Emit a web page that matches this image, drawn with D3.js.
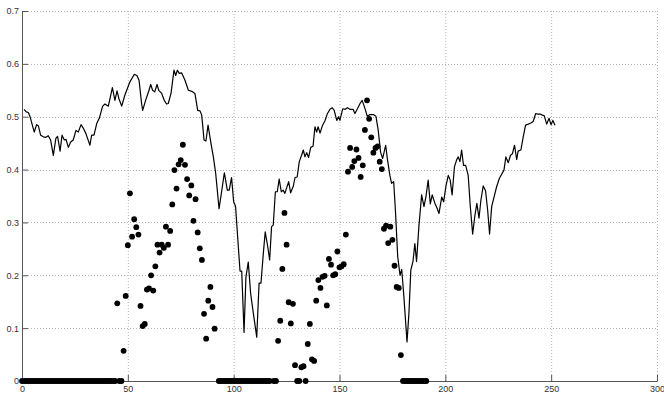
<!DOCTYPE html>
<html>
<head>
<meta charset="utf-8">
<script src="https://cdn.jsdelivr.net/npm/d3@7"></script>
<style>
body { margin: 0; background: #fff; }
svg { display: block; }
.axis text { font-family: "Liberation Sans", Arial, sans-serif; font-size: 9px; fill: #333; }
.axis path, .axis line { stroke: #555; }
.grid line { stroke: #b4b4b4; stroke-dasharray: 1,2; }
</style>
</head>
<body>
<svg id="chart" width="664" height="393"></svg>
<script>
// line series (x, value)
var lineX = [1,2,3,3.8,4.7,5.8,6.9,7.7,8.8,10.1,11.3,12.4,13.5,14.8,16,16.8,18,18.9,20,20.8,21.9,23,24.2,25.5,26.6,27.9,29,30.2,32.1,32.9,34,35.3,36.5,38.1,39.2,40.8,42.7,43.9,44.9,45.8,47.1,48.7,51,53,54.3,55.3,56.5,57,58.4,60,60.8,61.7,62.7,63.8,64.6,66,67.2,68.3,69.1,70.4,71.8,72.6,73.4,74.3,75.4,77,78.6,80.2,81.7,83,84.1,84.9,86,86.9,87.9,89.3,90.4,91.5,93.1,94.3,95.6,97,97.9,99,100,100.9,102.2,103,103.8,104.9,105.8,106.9,108,109.3,110.9,112,112.9,114,114.9,116.1,117,117.9,118.7,119.7,120.6,121.5,122.5,123.4,124.2,124.9,126,126.9,128.2,129,130,131,132.1,132.9,133.7,134.5,135.4,136.4,137.5,138.4,139.2,139.9,140.8,142,143.1,144.2,145.5,146.6,147.5,148.7,149.6,150.2,151.5,152.7,153.7,154.9,156.4,157.3,158.6,159.7,160.7,161.5,162.3,163.1,164.4,166,167.2,168.3,169.4,170.4,171.8,172.7,173.8,174.6,175.6,176.5,177.5,178.6,179.4,180.3,181.9,182.8,183.7,184.7,185.6,186.4,187.5,188.8,189.9,190.8,191.9,192.9,193.8,195.1,196.2,197,198.3,199.2,200.3,201.4,202.3,203.2,204.3,205.3,206.1,206.9,207.7,208.6,209.6,210.8,211.8,212.9,214,214.9,215.9,216.8,217.9,219,220,220.9,221.9,223,224.2,225.5,226.6,227.7,228.6,229.7,230.8,231.7,232.7,233.7,234.4,235.7,236.8,237.9,239.2,240.4,241.5,242.7,243.6,244.8,245.8,246.7,247.9,249,249.9,250.8,251.8];
var lineY = [0.514,0.509,0.508,0.500,0.487,0.471,0.485,0.483,0.465,0.462,0.461,0.464,0.456,0.427,0.459,0.463,0.435,0.465,0.456,0.457,0.442,0.452,0.456,0.474,0.471,0.485,0.478,0.468,0.446,0.465,0.465,0.487,0.497,0.520,0.524,0.520,0.555,0.531,0.549,0.534,0.520,0.542,0.566,0.580,0.578,0.569,0.525,0.512,0.531,0.550,0.561,0.550,0.547,0.561,0.550,0.544,0.531,0.524,0.525,0.544,0.588,0.578,0.588,0.582,0.583,0.569,0.550,0.548,0.544,0.512,0.511,0.503,0.456,0.454,0.484,0.449,0.424,0.393,0.326,0.358,0.394,0.361,0.361,0.385,0.339,0.330,0.254,0.208,0.208,0.092,0.197,0.225,0.166,0.128,0.083,0.185,0.185,0.241,0.282,0.254,0.229,0.292,0.295,0.358,0.358,0.382,0.358,0.361,0.355,0.364,0.377,0.356,0.369,0.385,0.386,0.415,0.427,0.437,0.424,0.432,0.423,0.442,0.444,0.481,0.471,0.481,0.469,0.484,0.492,0.505,0.514,0.517,0.512,0.493,0.500,0.493,0.515,0.514,0.517,0.514,0.514,0.506,0.516,0.525,0.531,0.522,0.512,0.501,0.504,0.504,0.501,0.474,0.433,0.421,0.446,0.418,0.389,0.374,0.377,0.317,0.235,0.200,0.211,0.166,0.074,0.128,0.210,0.226,0.260,0.226,0.292,0.352,0.330,0.348,0.380,0.335,0.352,0.336,0.326,0.317,0.348,0.339,0.369,0.389,0.380,0.352,0.405,0.418,0.424,0.415,0.437,0.408,0.408,0.389,0.330,0.278,0.314,0.336,0.308,0.342,0.369,0.360,0.323,0.278,0.330,0.348,0.367,0.383,0.391,0.399,0.424,0.413,0.427,0.430,0.446,0.419,0.435,0.437,0.462,0.484,0.486,0.488,0.491,0.506,0.505,0.505,0.503,0.502,0.486,0.497,0.485,0.493,0.484];

// dot series
var dotX = [0,1,2,3,4,5,6,7,8,9,10,11,12,13,14,15,16,17,18,19,20,21,22,23,24,25,26,27,28,29,30,31,32,33,34,35,36,37,38,39,40,41,42,43,44,45,46,47,48,49,50,51,52,53,54,55,56,57,58,59,60,61,62,63,64,65,66,67,68,69,70,71,72,73,74,75,76,77,78,79,80,81,82,83,84,85,86,87,88,89,90,91,93,94,95,96,97,98,99,100,101,102,103,104,105,106,107,108,109,110,111,112,113,114,115,116,117,119,120,121,122,123,124,125,126,127,128,129,130,131,132,133,134,135,136,137,138,139,140,141,142,143,144,145,146,147,148,149,150,151,152,153,154,155,156,157,158,159,160,161,162,163,164,165,166,167,168,169,170,171,172,173,174,175,176,177,178,179,180,181,182,183,184,185,186,187,188,189,190,191];
var dotY = [0,0,0,0,0,0,0,0,0,0,0,0,0,0,0,0,0,0,0,0,0,0,0,0,0,0,0,0,0,0,0,0,0,0,0,0,0,0,0,0,0,0,0,0,0,0.147,0,0,0.057,0.161,0.257,0.355,0.273,0.306,0.291,0.277,0.142,0.104,0.108,0.173,0.175,0.200,0.171,0.217,0.258,0.243,0.258,0.252,0.292,0.258,0.284,0.334,0.399,0.364,0.410,0.418,0.447,0.409,0.382,0.351,0.370,0.303,0.344,0.281,0.251,0.229,0.127,0.080,0.152,0.178,0.140,0.099,0,0,0,0,0,0,0,0,0,0,0,0,0,0,0,0,0,0,0,0,0,0,0,0,0,0,0,0.076,0.114,0.212,0.318,0.258,0.149,0.109,0.146,0.030,0,0,0.026,0.028,0,0.070,0.108,0.041,0.038,0.152,0.191,0.176,0.197,0.199,0.143,0.231,0.220,0.200,0.202,0.245,0.215,0.217,0.221,0.277,0.396,0.441,0.405,0.416,0.438,0.422,0.386,0.408,0.475,0.531,0.496,0.461,0.432,0.441,0.444,0.415,0.401,0.288,0.294,0.261,0.292,0.267,0.218,0.178,0.176,0.049,0,0,0,0,0,0,0,0,0,0,0,0,0,0];

var xTicks = [0,50,100,150,200,250,300];
var yTicks = [0,0.1,0.2,0.3,0.4,0.5,0.6,0.7];

var svg = d3.select("#chart");
var x = d3.scaleLinear().domain([0,300]).range([22,657]);
var y = d3.scaleLinear().domain([0,0.7]).range([381,11]);

// grid
var grid = svg.append("g").attr("class","grid");
grid.selectAll(".gx").data(xTicks.slice(1)).enter().append("line")
    .attr("x1",function(d){return x(d)+0.5;}).attr("x2",function(d){return x(d)+0.5;})
    .attr("y1",y(0)).attr("y2",y(0.7));
grid.selectAll(".gy").data(yTicks.slice(1)).enter().append("line")
    .attr("y1",function(d){return Math.round(y(d))+0.5;}).attr("y2",function(d){return Math.round(y(d))+0.5;})
    .attr("x1",x(0)).attr("x2",x(300));

// axes
svg.append("g").attr("class","axis")
    .attr("transform","translate(0,"+y(0)+")")
    .call(d3.axisBottom(x).tickValues(xTicks).tickFormat(d3.format("d")).tickSizeInner(-6).tickSizeOuter(0).tickPadding(5));
svg.append("g").attr("class","axis")
    .attr("transform","translate("+x(0)+",0)")
    .call(d3.axisLeft(y).tickValues(yTicks).tickFormat(function(d){return d===0?"0":d3.format(".1f")(d);}).tickSizeInner(-6).tickSizeOuter(0).tickPadding(3));

// line
var pts = lineX.map(function(d,i){return [d, lineY[i]];});
svg.append("path")
    .datum(pts)
    .attr("fill","none")
    .attr("stroke","#000")
    .attr("stroke-width",1.2)
    .attr("stroke-linejoin","round")
    .attr("d", d3.line().x(function(d){return x(d[0]);}).y(function(d){return y(d[1]);}));

// dots
var dots = dotX.map(function(d,i){return [d, dotY[i]];});
svg.append("g").selectAll("circle")
    .data(dots).enter().append("circle")
    .attr("cx",function(d){return x(d[0]);})
    .attr("cy",function(d){return y(d[1]);})
    .attr("r",2.9)
    .attr("fill","#000");
</script>
</body>
</html>
